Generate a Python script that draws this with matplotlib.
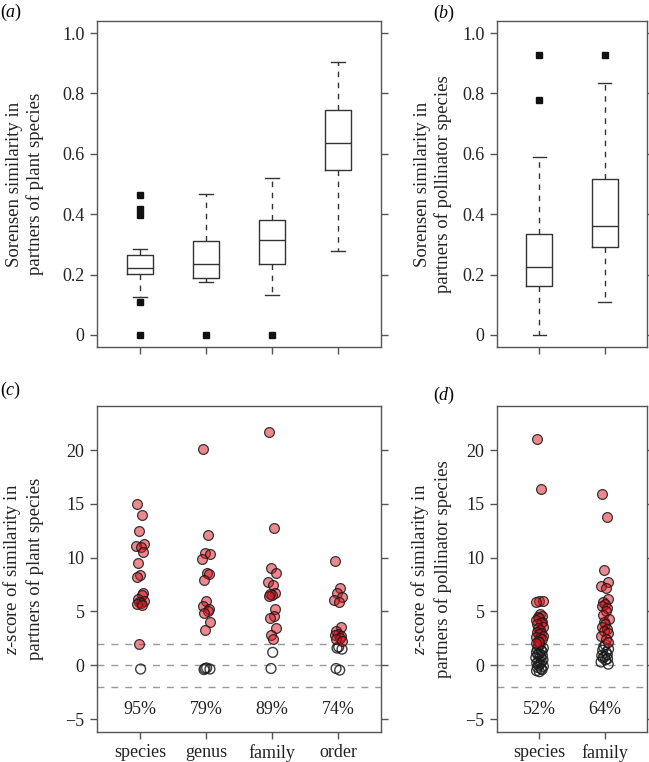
import numpy as np
import matplotlib.pyplot as plt

plt.rcParams["font.family"] = "Liberation Serif"
plt.rcParams["mathtext.fontset"] = "custom"
plt.rcParams["mathtext.rm"] = "Liberation Serif"
plt.rcParams["mathtext.it"] = "Liberation Serif:italic"
plt.rcParams["font.size"] = 13

# ---- data ----
plant_levels = ["species", "genus", "family", "order"]
plant_q1 = [0.203, 0.190, 0.234, 0.548]
plant_med = [0.222, 0.236, 0.313, 0.637]
plant_q3 = [0.266, 0.312, 0.381, 0.744]
plant_wlo = [0.127, 0.174, 0.133, 0.277]
plant_whi = [0.286, 0.467, 0.519, 0.903]
plant_out = [[0.465, 0.418, 0.396, 0.110, 0.0], [0.0], [0.0], []]

poll_levels = ["species", "family"]
poll_q1 = [0.161, 0.292]
poll_med = [0.224, 0.360]
poll_q3 = [0.334, 0.516]
poll_wlo = [0.0, 0.110]
poll_whi = [0.588, 0.834]
poll_out = [[0.927, 0.779], [0.927]]

# z-scores, significant (z > 2) and non significant
plant_z_sig = [
    [15.0, 14.0, 12.5, 11.3, 11.1, 11.0, 10.5, 9.5, 8.4, 8.2, 6.7, 6.5, 6.2, 6.0, 5.9, 5.8, 5.7, 5.6, 2.0],
    [20.1, 12.1, 10.4, 10.3, 9.9, 8.6, 8.5, 7.9, 6.0, 5.5, 5.2, 5.0, 4.9, 4.0, 3.25],
    [21.7, 12.8, 9.0, 8.6, 7.7, 7.5, 6.7, 6.6, 6.5, 6.4, 5.2, 4.55, 4.35, 3.5, 2.85, 2.4],
    [9.65, 7.2, 6.7, 6.3, 6.1, 5.85, 3.6, 3.2, 2.9, 2.8, 2.7, 2.5, 2.4, 2.3],
]
plant_z_ns = [
    [-0.35],
    [-0.25, -0.3, -0.35, -0.4],
    [1.2, -0.3],
    [1.7, 1.6, 1.5, -0.3, -0.45],
]
plant_pct = ["95%", "79%", "89%", "74%"]

poll_z_sig = [
    [21.0, 16.4, 6.0, 5.95, 5.85, 4.8, 4.6, 4.5, 4.4, 4.2, 4.0, 3.9, 3.8, 3.6, 3.5, 3.3,
     3.1, 3.0, 2.9, 2.7, 2.6, 2.5, 2.4, 2.3, 2.2, 2.1],
    [15.9, 13.8, 8.9, 7.7, 7.4, 7.2, 6.2, 5.9, 5.7, 5.5, 5.3, 5.0, 4.7, 4.3, 4.0, 3.8,
     3.6, 3.4, 3.2, 3.0, 2.7, 2.4, 2.2],
]
poll_z_ns = [
    [1.9, 1.8, 1.6, 1.5, 1.4, 1.3, 1.2, 1.1, 1.0, 0.9, 0.8, 0.7, 0.5, 0.4, 0.3, 0.2,
     0.1, 0.0, -0.1, -0.2, -0.3, -0.4, -0.5, -0.6],
    [1.9, 1.7, 1.5, 1.4, 1.2, 1.0, 0.9, 0.8, 0.7, 0.6, 0.5, 0.3, 0.1],
]
poll_pct = ["52%", "64%"]

# ---- style ----
FG = "#333333"
RED = (0.84, 0.08, 0.12, 0.5)
EDGE = (0.1, 0.1, 0.1, 0.85)
JIT = np.array([-0.04, 0.03, -0.01, 0.055, -0.055, 0.015, 0.045, -0.025, 0.0,
                -0.045, 0.04, 0.025, -0.03, 0.06, -0.015, 0.01])

fig = plt.figure(figsize=(6.49, 7.62), dpi=100)
ax_a = fig.add_axes([0.1495, 0.5446, 0.4375, 0.4278])
ax_b = fig.add_axes([0.7658, 0.5446, 0.2312, 0.4278])
ax_c = fig.add_axes([0.1495, 0.0394, 0.4375, 0.4278])
ax_d = fig.add_axes([0.7658, 0.0394, 0.2312, 0.4278])


def style(ax):
    for s in ax.spines.values():
        s.set_color("#555555")
        s.set_linewidth(1.0)
    ax.tick_params(direction="out", length=5, width=1, color="#555555",
                   labelcolor="#222222", right=True, labelright=False, pad=4)


def boxes(ax, q1, med, q3, wlo, whi, out):
    stats = []
    for i in range(len(med)):
        stats.append(dict(q1=q1[i], med=med[i], q3=q3[i], whislo=wlo[i],
                          whishi=whi[i], fliers=out[i]))
    ax.bxp(stats, positions=np.arange(1, len(med) + 1), widths=0.4,
           capwidths=0.2, manage_ticks=False,
           boxprops=dict(color=FG, lw=1),
           whiskerprops=dict(color=FG, lw=1, ls=(0, (4, 4))),
           capprops=dict(color=FG, lw=1),
           medianprops=dict(color=FG, lw=1),
           flierprops=dict(marker="s", mfc="#111111", mec="#111111", ms=4.5, ls="none"))
    ax.set_ylim(-0.04, 1.04)
    ax.set_yticks([0, 0.2, 0.4, 0.6, 0.8, 1.0])
    ax.set_yticklabels(["0", "0.2", "0.4", "0.6", "0.8", "1.0"])
    ax.set_xticks(np.arange(1, len(med) + 1))
    ax.set_xticklabels([])
    ax.set_xlim(0.35, len(med) + 0.65)
    style(ax)


def zplot(ax, sig, ns, pct, levels):
    for y in [2, 0, -2]:
        ax.axhline(y, color="#999999", lw=1, ls=(0, (5, 5)), zorder=1)
    for i in range(len(sig)):
        x0 = i + 1
        ys = np.array(ns[i])
        ax.scatter(x0 + np.resize(JIT[::-1], len(ys)), ys, s=50, facecolor="none",
                   edgecolor=EDGE, linewidth=1.0, zorder=2)
        ys = np.array(sig[i])
        ax.scatter(x0 + np.resize(JIT, len(ys)), ys, s=50, facecolor=RED,
                   edgecolor=EDGE, linewidth=0.9, zorder=3)
        ax.text(x0, -4.1, pct[i], ha="center", va="center", fontsize=13, color="#222222")
    ax.set_ylim(-6.2, 24.1)
    ax.set_yticks([-5, 0, 5, 10, 15, 20])
    ax.set_xticks(np.arange(1, len(sig) + 1))
    ax.set_xticklabels(levels)
    ax.set_xlim(0.35, len(sig) + 0.65)
    style(ax)


boxes(ax_a, plant_q1, plant_med, plant_q3, plant_wlo, plant_whi, plant_out)
boxes(ax_b, poll_q1, poll_med, poll_q3, poll_wlo, poll_whi, poll_out)
zplot(ax_c, plant_z_sig, plant_z_ns, plant_pct, plant_levels)
zplot(ax_d, poll_z_sig, poll_z_ns, poll_pct, poll_levels)

lab = dict(color="#222222", fontsize=13.5)
ax_a.set_ylabel("Sorensen similarity in\npartners of plant species", **lab)
ax_b.set_ylabel("Sorensen similarity in\npartners of pollinator species", **lab)
ax_c.set_ylabel("$z$-score of similarity in\npartners of plant species", **lab)
ax_d.set_ylabel("$z$-score of similarity in\npartners of pollinator species", **lab)
ax_a.yaxis.set_label_coords(-0.187, 0.5)
ax_c.yaxis.set_label_coords(-0.187, 0.5)
ax_b.yaxis.set_label_coords(-0.30, 0.5)
ax_d.yaxis.set_label_coords(-0.30, 0.5)

fig.text(0.0, 1 - 12 / 762, "($a$)", ha="left", va="center", fontsize=13)
fig.text(433 / 649, 1 - 13 / 762, "($b$)", ha="left", va="center", fontsize=13)
fig.text(0.0, 1 - 390 / 762, "($c$)", ha="left", va="center", fontsize=13)
fig.text(433 / 649, 1 - 395 / 762, "($d$)", ha="left", va="center", fontsize=13)

fig.savefig("out.png", dpi=100)
